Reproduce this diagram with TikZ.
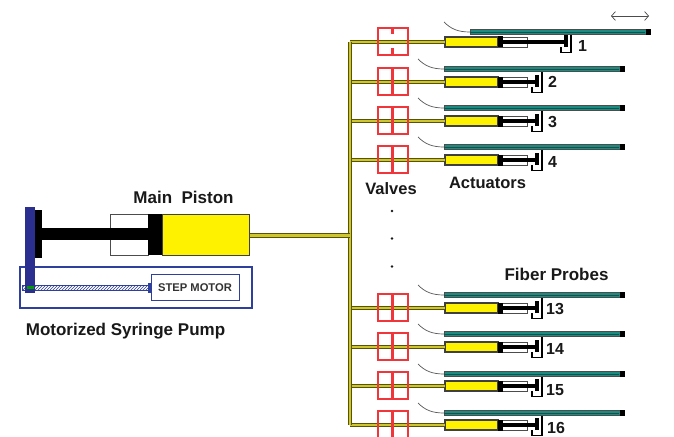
\documentclass[tikz,border=0pt]{standalone}
\usepackage{fontspec}
\setmainfont{Liberation Sans}
\usetikzlibrary{arrows.meta,patterns}
\definecolor{pyellow}{HTML}{FFF200}
\definecolor{tubedark}{HTML}{55530F}
\definecolor{tubecore}{HTML}{CFC62A}
\definecolor{fiber}{HTML}{1F8A80}
\definecolor{valvered}{HTML}{F0353B}
\definecolor{pumpblue}{HTML}{2B2F8F}
\definecolor{boxblue}{HTML}{2F409C}
\tikzset{
  x=1pt,y=-1pt,
  box/.style={rectangle,inner sep=0pt,outer sep=0pt,anchor=north west},
  tube/.style={draw=tubedark,line width=1.1pt,double=tubecore,double distance=2.2pt},
  thintube/.style={draw=tubedark,line width=1.1pt,double=tubecore,double distance=1.6pt},
  valvebox/.style={box,draw=valvered,line width=1.2pt,minimum width=30pt,minimum height=27pt},
  yellowcyl/.style={box,fill=pyellow,draw=black!75,line width=1.2pt,minimum width=53pt,minimum height=10pt},
  whitecyl/.style={box,fill=white,draw=black!70,line width=.9pt,minimum width=29pt,minimum height=10pt},
  probe/.style={box,fill=fiber,draw=black!70,line width=1pt,minimum height=5.5pt},
  lbl/.style={text=black!90,inner sep=0pt},
  biglbl/.style={lbl,font=\bfseries\fontsize{17}{17}\selectfont},
  midlbl/.style={lbl,font=\bfseries\fontsize{16.5}{17}\selectfont},
  numlbl/.style={font=\bfseries\fontsize{16}{16}\selectfont,text=black!90,inner sep=0pt},
  fibertail/.style={draw=black!65,line width=.7pt},
}
% #1 id, #2 channel y, #3 probe y, #4 label, #5 label x, #6 label y, #7 probe shift, #8 rod shift
\newcommand{\actrow}[8]{
  \coordinate (tap#1) at (350,#2);
  \node[yellowcyl] (act#1) at (445,#2-5) {};
  \draw[thintube] (tap#1) -- (act#1.west);
  \node[whitecyl] (wc#1) at (498,#2-5) {};
  \fill[black] (498,#2-5.5) rectangle (503,#2+5.5);
  \fill[black] (503,#2-1.9) rectangle (536+#8,#2+1.9);
  \fill[black] (535+#8,#2-7) rectangle (539+#8,#2+5);
  \draw[black,line width=1.5pt] (542+#8,#2-10) -- (542+#8,#2+10.5) -- (532+#8,#2+10.5) -- (532+#8,#2+5);
  \node[probe,minimum width=176pt] (fib#1) at (444+#7,#3-2.75) {};
  \fill[black] (619.5+#7,#3-3) rectangle (624.5+#7,#3+3);
  \draw[black!40!fiber,line width=.5pt] (444+#7,#3) -- (619+#7,#3);
  \coordinate (tail#1) at (418+#7,#3-10);
  \draw[fibertail] (tail#1) .. controls (425+#7,#3-3) and (432+#7,#3) .. (fib#1.west);
  \node[numlbl,anchor=west] (num#1) at (#5,#6) {#4};
}
\newcommand{\fullvalve}[2]{
  \node[valvebox] (valve#1) at (378,#2-14) {};
  \fill[valvered] (391,#2-14) rectangle (394,#2+13);
}
\begin{document}
\begin{tikzpicture}
\clip (0,0) rectangle (674,436);
\fill[white] (0,0) rectangle (674,436);
% bus
\coordinate (bustop) at (350,42);
\coordinate (busbot) at (350,425);
\node[box,draw=none,minimum width=87pt,minimum height=41pt,fill=pyellow] (maincyl) at (162,214) {};
\coordinate (busmid) at (350,235.5);
% rows
\actrow{1}{42}{32}{1}{578}{46}{26}{29}
\actrow{2}{82}{69}{2}{548}{82}{0}{0}
\actrow{3}{121}{108}{3}{548}{122}{0}{0}
\actrow{4}{160}{147}{4}{548}{162}{0}{0}
\actrow{13}{308}{295}{13}{546}{309}{0}{0}
\actrow{14}{347}{334}{14}{546}{349}{0}{0}
\actrow{15}{386}{374}{15}{546}{390}{0}{0}
\actrow{16}{425}{413}{16}{547}{428}{0}{0}
\draw[tube] (bustop) -- (busbot);
\draw[tube] (maincyl.east |- busmid) -- (busmid);
% valves
\node[valvebox] (valve1) at (378,28) {};
\fill[valvered] (391,28) rectangle (394,34);
\fill[valvered] (391,48) rectangle (394,55);
\fullvalve{2}{82}
\fullvalve{3}{121}
\fullvalve{4}{160}
\fullvalve{13}{308}
\fullvalve{14}{347}
\fullvalve{15}{386}
\fullvalve{16}{425}
% main piston
\node[box,fill=white,draw=black!70,line width=.9pt,minimum width=38pt,minimum height=41pt] (backcyl) at (110,214) {};
\draw[black!75,line width=.9pt] (maincyl.north west) rectangle (maincyl.south east);
\fill[black] (148,214) rectangle (162,255);
\fill[black] (42,228) rectangle (148,240);
\fill[black] (35,210) rectangle (42,258);
% pump
\node[box,draw=boxblue,line width=1.6pt,minimum width=232pt,minimum height=41pt] (pumpbox) at (20,267) {};
\node[box,draw=boxblue,line width=1pt,minimum width=88pt,minimum height=26pt] (motor) at (151,274.5) {};
\node[anchor=center,font=\bfseries\fontsize{11.2}{11.2}\selectfont,text=black!80,inner sep=0pt] (motorlbl) at (195,288) {STEP MOTOR};
\node[box,fill=white,draw=boxblue,line width=.8pt,minimum width=128pt,minimum height=5pt] (screw) at (22,285) {};
\fill[pattern=north east lines,pattern color=boxblue] (22,285) rectangle (150,290);
\fill[boxblue] (148,283) rectangle (151,293);
\fill[pumpblue] (25,207) rectangle (35,293);
\fill[green!60!black] (27,285.5) rectangle (34,289);
% arrow
\coordinate (arrowl) at (611,16);
\coordinate (arrowr) at (649,16);
\draw[black!70,line width=.7pt,{Straight Barb[length=4pt,width=9pt]}-{Straight Barb[length=4pt,width=9pt]}] (arrowl) -- (arrowr);
% labels
\node[biglbl] (mainlbl) at (183.5,197.5) {Main\ \ Piston};
\node[biglbl] (pumplbl) at (125.5,331) {Motorized Syringe Pump};
\node[midlbl] (valveslbl) at (391,189) {Valves};
\node[midlbl] (actlbl) at (487.5,183) {Actuators};
\node[biglbl] (fiberlbl) at (556.5,274) {Fiber Probes};
\fill[black!90] (392,211) circle (1.3);
\fill[black!90] (392,238.5) circle (1.3);
\fill[black!90] (392,266.5) circle (1.3);
\end{tikzpicture}
\end{document}
